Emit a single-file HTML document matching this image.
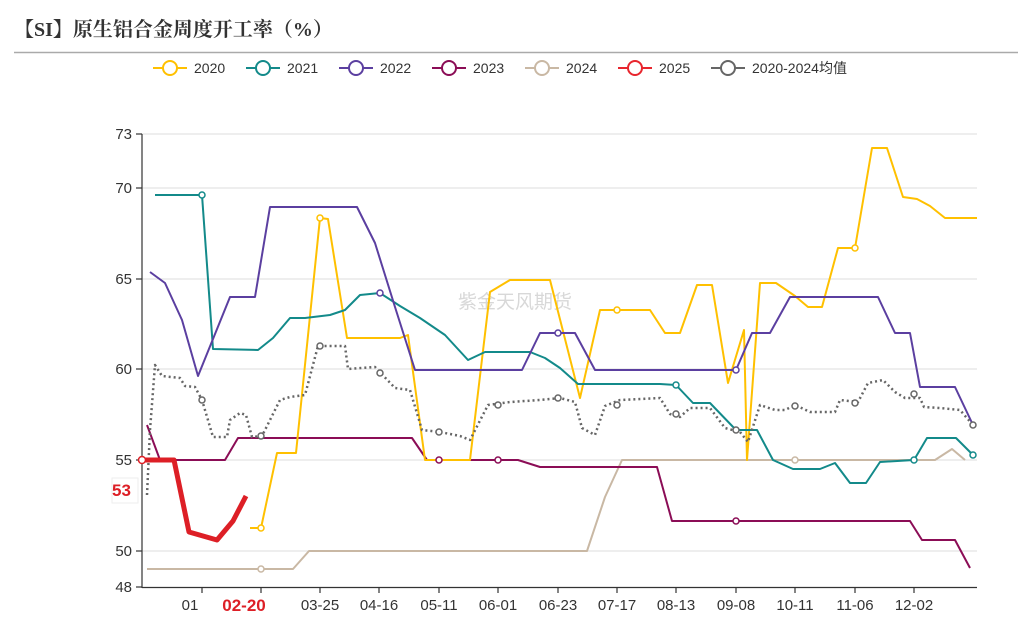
<!DOCTYPE html>
<html><head><meta charset="utf-8"><style>
body{margin:0;background:#fff;}
svg{display:block;font-family:"Liberation Sans","Noto Sans CJK SC",sans-serif;}
</style></head><body>
<svg width="1031" height="621" viewBox="0 0 1031 621">
<text x="14" y="36" font-size="20" font-weight="bold" fill="#333" font-family="'Liberation Serif','Noto Serif CJK SC',serif">【SI】原生铝合金周度开工率（%）</text>
<line x1="14" y1="52.5" x2="1018" y2="52.5" stroke="#aaa" stroke-width="1.5"/>
<g font-size="14" fill="#333">
<g stroke-width="2" fill="#fff">
<line x1="153" y1="68" x2="187" y2="68" stroke="#FFC000"/><circle cx="170" cy="68" r="7" stroke="#FFC000"/>
<line x1="246" y1="68" x2="280" y2="68" stroke="#138a8a"/><circle cx="263" cy="68" r="7" stroke="#138a8a"/>
<line x1="339" y1="68" x2="373" y2="68" stroke="#5b3fa0"/><circle cx="356" cy="68" r="7" stroke="#5b3fa0"/>
<line x1="432" y1="68" x2="466" y2="68" stroke="#8b0d56"/><circle cx="449" cy="68" r="7" stroke="#8b0d56"/>
<line x1="525" y1="68" x2="559" y2="68" stroke="#c9b8a4"/><circle cx="542" cy="68" r="7" stroke="#c9b8a4"/>
<line x1="618" y1="68" x2="652" y2="68" stroke="#e8262e"/><circle cx="635" cy="68" r="7" stroke="#e8262e"/>
<line x1="711" y1="68" x2="745" y2="68" stroke="#666"/><circle cx="728" cy="68" r="7" stroke="#666"/>
</g>
<text x="194" y="73">2020</text><text x="287" y="73">2021</text><text x="380" y="73">2022</text><text x="473" y="73">2023</text><text x="566" y="73">2024</text><text x="659" y="73">2025</text><text x="752" y="73">2020-2024均值</text>
</g>
<g stroke="#ddd" stroke-width="1">
<line x1="142" y1="134" x2="977" y2="134"/><line x1="142" y1="188" x2="977" y2="188"/><line x1="142" y1="279" x2="977" y2="279"/><line x1="142" y1="369" x2="977" y2="369"/><line x1="142" y1="460" x2="977" y2="460"/><line x1="142" y1="551" x2="977" y2="551"/>
</g>
<g stroke="#333" stroke-width="1.2">
<line x1="142" y1="134" x2="142" y2="588"/><line x1="142" y1="587.5" x2="977" y2="587.5"/>
<line x1="136" y1="134" x2="142" y2="134"/><line x1="136" y1="188" x2="142" y2="188"/><line x1="136" y1="279" x2="142" y2="279"/><line x1="136" y1="369" x2="142" y2="369"/><line x1="136" y1="460" x2="142" y2="460"/><line x1="136" y1="551" x2="142" y2="551"/><line x1="136" y1="587" x2="142" y2="587"/>
<line x1="202" y1="587" x2="202" y2="593"/><line x1="261" y1="587" x2="261" y2="593"/><line x1="320" y1="587" x2="320" y2="593"/><line x1="379" y1="587" x2="379" y2="593"/><line x1="439" y1="587" x2="439" y2="593"/><line x1="498" y1="587" x2="498" y2="593"/><line x1="558" y1="587" x2="558" y2="593"/><line x1="617" y1="587" x2="617" y2="593"/><line x1="676" y1="587" x2="676" y2="593"/><line x1="736" y1="587" x2="736" y2="593"/><line x1="795" y1="587" x2="795" y2="593"/><line x1="855" y1="587" x2="855" y2="593"/><line x1="914" y1="587" x2="914" y2="593"/>
</g>
<g font-size="15" fill="#333" text-anchor="end">
<text x="132" y="139">73</text><text x="132" y="193">70</text><text x="132" y="284">65</text><text x="132" y="374">60</text><text x="132" y="465">55</text><text x="132" y="556">50</text><text x="132" y="592">48</text>
</g>
<g font-size="15" fill="#333" text-anchor="middle">
<text x="190" y="610">01</text><text x="320" y="610">03-25</text><text x="379" y="610">04-16</text><text x="439" y="610">05-11</text><text x="498" y="610">06-01</text><text x="558" y="610">06-23</text><text x="617" y="610">07-17</text><text x="676" y="610">08-13</text><text x="736" y="610">09-08</text><text x="795" y="610">10-11</text><text x="855" y="610">11-06</text><text x="914" y="610">12-02</text>
</g>
<text x="244" y="611" font-size="17" font-weight="bold" fill="#dd1f26" text-anchor="middle">02-20</text>
<rect x="112" y="478" width="26" height="25" fill="#fff" stroke="#eee"/>
<text x="112" y="496" font-size="17" font-weight="bold" fill="#dd1f26">53</text>
<text x="515" y="308" font-size="19" fill="#d8d8d8" text-anchor="middle">紫金天风期货</text>
<g fill="none" stroke-linejoin="round">
<polyline stroke="#c9b8a4" stroke-width="2" points="147,569 293,569 309,551 587,551 605,497 622,460 935,460 952,449 965,460"/>
<polyline stroke="#8b0d56" stroke-width="2" points="147,425 160,460 225,460 238,438 412,438 427,460 518,460 540,467 657,467 672,521 910,521 922,540 955,540 970,568"/>
<polyline stroke="#FFC000" stroke-width="2" points="250,528 261,528 277,453 296,453 320,218 328,219 347,338 400,338 408,335 425,460 470,460 490,292 510,280 550,280 580,398 600,310 650,310 665,333 680,333 697,285 712,285 728,383 744,330 747,460 760,283 776,283 795,296 808,307 822,307 838,248 855,248 872,148 887,148 903,197 917,199 930,206 945,218 977,218"/>
<polyline stroke="#138a8a" stroke-width="2" points="155,195 202,195 213,349 258,350 273,338 290,318 305,318 330,315 345,310 360,295 380,293 400,306 420,318 445,335 468,360 485,352 530,352 545,358 560,368 578,384 660,384 676,385 693,403 710,403 736,430 757,430 773,460 793,469 820,469 835,463 850,483 866,483 880,462 914,460 927,438 956,438 973,455"/>
<polyline stroke="#5b3fa0" stroke-width="2" points="150,272 165,283 182,320 198,376 230,297 255,297 270,207 357,207 375,243 395,307 415,370 522,370 540,333 575,333 595,370 736,370 752,333 770,333 790,297 878,297 895,333 910,333 920,387 955,387 973,425"/>
<polyline stroke="#666" stroke-width="2.5" stroke-dasharray="2,3" points="147,495 150,430 155,365 162,376 180,378 185,386 195,387 202,400 213,437 227,437 230,420 240,413 246,415 252,437 262,436 270,420 280,400 290,397 305,395 318,346 345,346 348,369 375,367 395,388 410,390 422,430 440,432 460,436 470,440 488,405 510,402 540,400 560,398 575,402 582,428 595,435 605,406 620,400 660,398 670,414 680,417 690,408 710,408 725,428 740,432 748,442 760,405 775,410 785,410 795,405 810,412 835,412 840,400 858,402 868,383 883,380 895,392 905,398 920,398 924,407 940,408 960,410 973,425"/>
<polyline stroke="#dd1f26" stroke-width="5" points="142,460 174,460 189,532 217,540 233,521 246,496"/>
</g>
<g fill="#fff" stroke-width="1.5">
<g stroke="#FFC000"><circle cx="261" cy="528" r="3"/><circle cx="320" cy="218" r="3"/><circle cx="617" cy="310" r="3"/><circle cx="855" cy="248" r="3"/></g>
<g stroke="#138a8a"><circle cx="202" cy="195" r="3"/><circle cx="676" cy="385" r="3"/><circle cx="914" cy="460" r="3"/><circle cx="973" cy="455" r="3"/></g>
<g stroke="#5b3fa0"><circle cx="380" cy="293" r="3"/><circle cx="558" cy="333" r="3"/><circle cx="736" cy="370" r="3"/></g>
<g stroke="#8b0d56"><circle cx="439" cy="460" r="3"/><circle cx="498" cy="460" r="3"/><circle cx="736" cy="521" r="3"/></g>
<g stroke="#c9b8a4"><circle cx="261" cy="569" r="3"/><circle cx="795" cy="460" r="3"/></g>
<g stroke="#666"><circle cx="202" cy="400" r="3"/><circle cx="261" cy="436" r="3"/><circle cx="320" cy="346" r="3"/><circle cx="380" cy="373" r="3"/><circle cx="439" cy="432" r="3"/><circle cx="498" cy="405" r="3"/><circle cx="558" cy="398" r="3"/><circle cx="617" cy="405" r="3"/><circle cx="676" cy="414" r="3"/><circle cx="736" cy="430" r="3"/><circle cx="795" cy="406" r="3"/><circle cx="855" cy="403" r="3"/><circle cx="914" cy="394" r="3"/><circle cx="973" cy="425" r="3"/></g>
<g stroke="#dd1f26"><circle cx="142" cy="460" r="3.5"/></g>
</g>
</svg>
</body></html>
